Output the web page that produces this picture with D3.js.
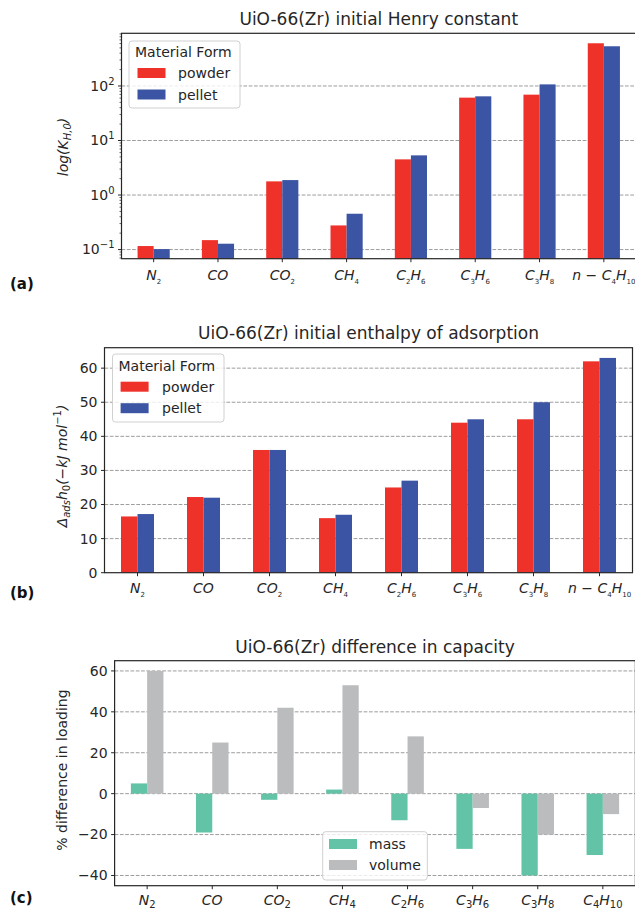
<!DOCTYPE html>
<html><head><meta charset="utf-8">
<script src="https://cdn.jsdelivr.net/npm/d3@7"></script>
<style>body{margin:0;background:#fff} svg{display:block;font-family:"DejaVu Sans",sans-serif}</style>
</head><body><svg id="chart" width="635" height="916"></svg>
<script>
// ---------- data ----------
const gases = ["N2","CO","CO2","CH4","C2H6","C3H6","C3H8","nC4H10"];
const gasLabelsAB = ["N_2","CO","CO_2","CH_4","C_2H_6","C_3H_6","C_3H_8","n − C_4H_10"];
const gasLabelsC = ["N_2","CO","CO_2","CH_4","C_2H_6","C_3H_6","C_3H_8","C_4H_10"];

const henryPowder = [0.116, 0.149, 1.78, 0.277, 4.51, 61.1, 69.3, 607];
const henryPellet = [0.102, 0.128, 1.88, 0.454, 5.34, 64.6, 107, 535];

const enthalpyPowder = [16.5, 22.2, 36, 16, 25, 44, 45, 62];
const enthalpyPellet = [17.2, 22.0, 36, 17, 27, 45, 50, 63];

const diffMass   = [5, -19, -3, 2, -13, -27, -40, -30];
const diffVolume = [60, 25, 42, 53, 28, -7, -20, -10];

const formNames = ["powder", "pellet"];
const capNames = ["mass", "volume"];
const logTickExps = [-1, 0, 1, 2];
const enthalpyTicks = [0, 10, 20, 30, 40, 50, 60];
const diffTicks = [-40, -20, 0, 20, 40, 60];

const titles = ["UiO-66(Zr) initial Henry constant", "UiO-66(Zr) initial enthalpy of adsorption", "UiO-66(Zr) difference in capacity"];
const panelTags = ["(a)", "(b)", "(c)"];

// ---------- style ----------
const RED = "#ee3129", BLUE = "#3b54a3", TEAL = "#62c3a7", GRAY = "#babcbe";
const INK = "#262626", GRID = "#9c9c9c";

const svg = d3.select("#chart");

function addLabel(sel, str, mainSize, subSize, subDy, italicSub) {
  const re = /(_\d+)|(−)|([^_−]+)/g;
  let m, pendingUp = 0;
  while ((m = re.exec(str)) !== null) {
    if (m[1]) {
      sel.append("tspan").text(m[1].slice(1))
        .attr("font-size", subSize).attr("font-style", italicSub ? "italic" : "normal")
        .attr("dy", subDy);
      pendingUp = subDy;
    } else {
      const t = sel.append("tspan").text(m[2] || m[3])
        .attr("font-style", m[2] ? "normal" : "italic").attr("font-size", mainSize);
      if (pendingUp) { t.attr("dy", -pendingUp); pendingUp = 0; }
    }
  }
}

function drawPanel(o) {
  const g = svg.append("g");
  const x = d3.scaleBand().domain(gases).range([o.left, o.right]).paddingInner(0).paddingOuter(0);
  const step = x.step();
  const sub = d3.scaleBand().domain(o.keys).range([-0.25 * step, 0.25 * step]);
  const y = o.y;

  // grid
  g.append("g").selectAll("line").data(o.gridVals).join("line")
    .attr("x1", o.left).attr("x2", Math.min(o.right, 640))
    .attr("y1", d => y(d)).attr("y2", d => y(d))
    .attr("stroke", GRID).attr("stroke-width", 1).attr("stroke-dasharray", "3.7,1.6");

  // bars
  const base = o.log ? o.bottom : y(0);
  o.keys.forEach((k, j) => {
    g.append("g").selectAll("rect").data(o.series[j]).join("rect")
      .attr("x", (d, i) => x(gases[i]) + step / 2 + sub(k))
      .attr("width", sub.bandwidth())
      .attr("y", d => Math.min(y(d), base))
      .attr("height", d => Math.abs(base - y(d)))
      .attr("fill", o.colors[j]);
  });

  // frame
  g.append("rect").attr("x", o.left).attr("y", o.top)
    .attr("width", o.right - o.left).attr("height", o.bottom - o.top)
    .attr("fill", "none").attr("stroke", INK).attr("stroke-width", 1.2);

  // x ticks + labels
  gases.forEach((gs, i) => {
    const cx = x(gs) + step / 2;
    g.append("line").attr("x1", cx).attr("x2", cx).attr("y1", o.bottom).attr("y2", o.bottom + 3.5)
      .attr("stroke", INK).attr("stroke-width", 1);
    const t = g.append("text").attr("x", cx).attr("y", o.bottom + o.xLabelOffset)
      .attr("text-anchor", "middle").attr("fill", INK).attr("font-size", 14);
    addLabel(t, o.labels[i], 14, o.subSize, o.subDy, o.italicSub);
  });

  // y ticks
  o.yTicks.forEach(v => {
    const yy = y(v);
    g.append("line").attr("x1", o.left - 3.5).attr("x2", o.left).attr("y1", yy).attr("y2", yy)
      .attr("stroke", INK).attr("stroke-width", 1);
    const t = g.append("text").attr("x", o.left - 7).attr("y", yy).attr("dy", "0.35em")
      .attr("text-anchor", "end").attr("font-size", 14).attr("fill", INK);
    if (o.log) {
      const e = Math.round(Math.log10(v));
      t.append("tspan").text("10");
      t.append("tspan").text(e < 0 ? "−" + (-e) : String(e)).attr("font-size", 10).attr("dy", -6);
    } else {
      t.text(v < 0 ? "−" + (-v) : String(v));
    }
  });
  if (o.minorTicks) {
    o.minorTicks.forEach(v => {
      const yy = y(v);
      g.append("line").attr("x1", o.left - 2).attr("x2", o.left).attr("y1", yy).attr("y2", yy)
        .attr("stroke", INK).attr("stroke-width", 0.7);
    });
  }

  // title
  g.append("text").attr("x", (o.left + o.right) / 2).attr("y", o.titleY)
    .attr("text-anchor", "middle").attr("font-size", 17).attr("fill", INK).text(o.title);

  // y label
  const yl = g.append("text").attr("transform", `translate(${o.yLabelX},${o.yLabelY}) rotate(-90)`)
    .attr("text-anchor", "middle").attr("dy", "0.35em").attr("font-size", 14).attr("fill", INK);
  o.yLabel(yl);

  // panel tag
  g.append("text").attr("x", 10).attr("y", o.tagY).attr("font-size", 15).attr("font-weight", "bold")
    .attr("fill", "#111").text(o.tag);

  // legend
  const L = o.legend;
  const lg = g.append("g");
  lg.append("rect").attr("x", L.x).attr("y", L.y).attr("width", L.w).attr("height", L.h)
    .attr("rx", 3).attr("fill", "#fff").attr("fill-opacity", 0.8)
    .attr("stroke", "#d0d0d0").attr("stroke-width", 1);
  if (L.title) {
    lg.append("text").attr("x", L.titleX).attr("y", L.titleY).attr("font-size", 14)
      .attr("fill", INK).text(L.title);
  }
  o.keys.forEach((k, j) => {
    lg.append("rect").attr("x", L.px).attr("y", L.py[j]).attr("width", 28).attr("height", 10)
      .attr("fill", o.colors[j]);
    lg.append("text").attr("x", L.tx).attr("y", L.py[j] + 10).attr("font-size", 14)
      .attr("fill", INK).text(k);
  });
}

// ---------- panel (a) ----------
const aTop = 33.3, aBottom = 258.7;
const minorA = [];
[-2, -1, 0, 1, 2].forEach(e => { for (let k = 2; k <= 9; k++) { const v = k * Math.pow(10, e); if (v > 0.068 && v < 925) minorA.push(v); } });
drawPanel({
  left: 121.5, right: 636, top: aTop, bottom: aBottom,
  y: d3.scaleLog().domain([0.068, 925]).range([aBottom, aTop]),
  log: true,
  gridVals: logTickExps.map(e => Math.pow(10, e)),
  yTicks: logTickExps.map(e => Math.pow(10, e)),
  minorTicks: minorA,
  keys: formNames, series: [henryPowder, henryPellet], colors: [RED, BLUE],
  labels: gasLabelsAB, subSize: 7, subDy: 4, italicSub: false, xLabelOffset: 21,
  title: titles[0], titleY: 25,
  yLabelX: 63, yLabelY: 147,
  yLabel: t => {
    t.append("tspan").text("log(K").attr("font-style", "italic");
    t.append("tspan").text("H,0").attr("font-size", 10).attr("font-style", "italic").attr("dy", 3);
    t.append("tspan").text(")").attr("font-style", "italic").attr("dy", -3);
  },
  tag: panelTags[0], tagY: 289,
  legend: { x: 129, y: 41, w: 111, h: 67, title: "Material Form", titleX: 135, titleY: 57,
            px: 137.5, py: [68, 89.5], tx: 178 }
});

// ---------- panel (b) ----------
const bTop = 347.7, bBottom = 572.7;
drawPanel({
  left: 104.5, right: 632.5, top: bTop, bottom: bBottom,
  y: d3.scaleLinear().domain([0, 66]).range([bBottom, bTop]),
  log: false,
  gridVals: enthalpyTicks.filter(v => v > 0),
  yTicks: enthalpyTicks,
  keys: formNames, series: [enthalpyPowder, enthalpyPellet], colors: [RED, BLUE],
  labels: gasLabelsAB, subSize: 7, subDy: 4, italicSub: false, xLabelOffset: 20.5,
  title: titles[1], titleY: 338.5,
  yLabelX: 62, yLabelY: 466,
  yLabel: t => {
    t.attr("font-style", "italic");
    t.append("tspan").text("Δ");
    t.append("tspan").text("ads").attr("font-size", 10).attr("dy", 3);
    t.append("tspan").text("h").attr("dy", -3);
    t.append("tspan").text("0").attr("font-size", 10).attr("dy", 3).attr("font-style", "normal");
    t.append("tspan").text("(−kJ mol").attr("dy", -3);
    t.append("tspan").text("−1").attr("font-size", 10).attr("dy", -6).attr("font-style", "normal");
    t.append("tspan").text(")").attr("dy", 6);
  },
  tag: panelTags[1], tagY: 598,
  legend: { x: 112.5, y: 354, w: 111.5, h: 68, title: "Material Form", titleX: 118.5, titleY: 371,
            px: 120.6, py: [381.7, 403.2], tx: 162 }
});

// ---------- panel (c) ----------
const cTop = 660.7, cBottom = 885.7;
drawPanel({
  left: 114.6, right: 635.4, top: cTop, bottom: cBottom,
  y: d3.scaleLinear().domain([-45, 65]).range([cBottom, cTop]),
  log: false,
  gridVals: diffTicks,
  yTicks: diffTicks,
  keys: capNames, series: [diffMass, diffVolume], colors: [TEAL, GRAY],
  labels: gasLabelsC, subSize: 10, subDy: 3, italicSub: false, xLabelOffset: 19.5,
  title: titles[2], titleY: 652.5,
  yLabelX: 62, yLabelY: 770,
  yLabel: t => { t.text("% difference in loading"); },
  tag: panelTags[2], tagY: 903,
  legend: { x: 322.7, y: 831.7, w: 104.6, h: 48.3, title: null,
            px: 329, py: [839, 860], tx: 369 }
});
</script></body></html>
